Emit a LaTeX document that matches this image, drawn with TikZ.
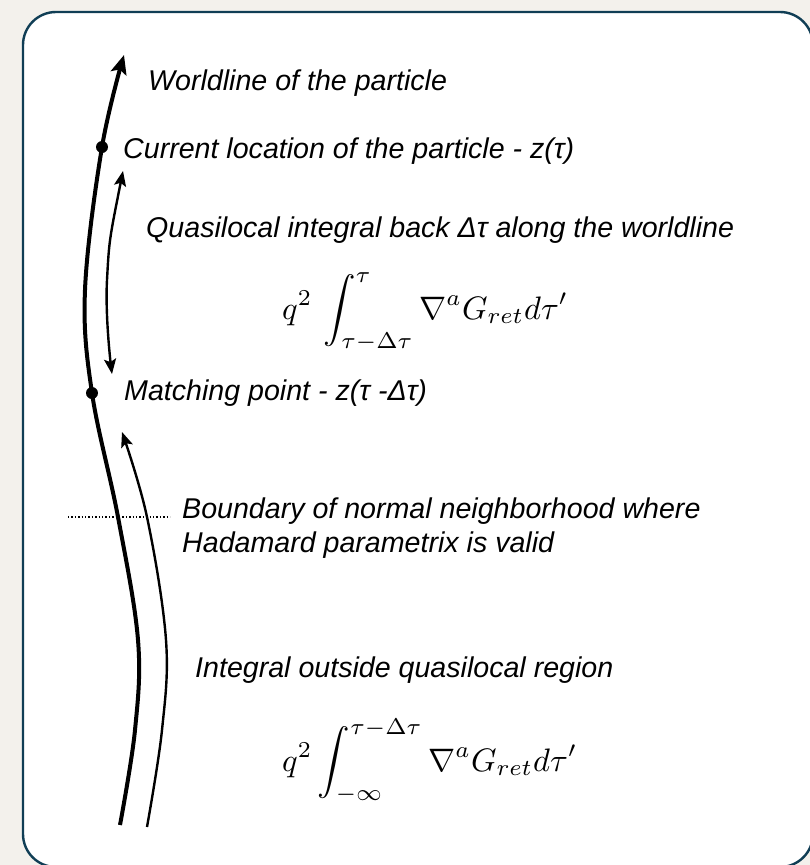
\documentclass[tikz,border=0pt]{standalone}
\usepackage{fontspec}
\setmainfont{Liberation Sans}
\usepackage{amsmath}
\usepackage{graphicx}
\usetikzlibrary{arrows.meta}
\definecolor{bgbeige}{HTML}{F3F1EC}
\definecolor{framecol}{HTML}{103E55}
\tikzset{
  lbl/.style={anchor=base west, inner sep=0pt, font=\fontsize{28.6}{32}\selectfont\itshape},
  eqn/.style={anchor=base west, inner sep=0pt},
  worldl/.style={line width=4pt, black},
  thinarr/.style={line width=2.4pt, black},
  headtip/.tip={Stealth[length=19pt,width=16pt,inset=4pt]},
  smalltip/.tip={Stealth[length=15pt,width=12pt,inset=3pt]},
  dotmark/.style={circle, fill=black, inner sep=0pt, minimum size=12pt}
}
\begin{document}
\begin{tikzpicture}[x=1pt,y=-1pt]
\fill[bgbeige] (0,0) rectangle (810,865);
\useasboundingbox (0,0) rectangle (810,865);
\begin{scope}
\clip (0,0) rectangle (810,865);
\draw[framecol, line width=2.4pt, fill=white, rounded corners=33pt] (23,12) rectangle (813,867);
\end{scope}

% worldline
\coordinate (wtop) at (124,55);
\coordinate (w1) at (102,147);
\coordinate (w2) at (85,290);
\coordinate (w3) at (92,393);
\coordinate (w4) at (118,517);
\coordinate (w5) at (138,640);
\coordinate (w6) at (135,730);
\coordinate (wbot) at (120,825);
\draw[worldl, -{headtip}] plot[smooth, tension=0.6] coordinates {(wbot) (w6) (w5) (w4) (w3) (w2) (w1) (wtop)};
\node[dotmark] (cur) at (w1) {};
\node[dotmark] (match) at (w3) {};

% double arrow (quasilocal)
\coordinate (qa) at (123,171);
\coordinate (qm) at (107,280);
\coordinate (qb) at (112,374);
\draw[thinarr, {smalltip}-{smalltip}] plot[smooth, tension=0.7] coordinates {(qa) (qm) (qb)};

% lower arrow (outside region)
\coordinate (la) at (122,432);
\coordinate (l1) at (147,517);
\coordinate (l2) at (166,640);
\coordinate (l3) at (162,730);
\coordinate (lb) at (147,827);
\draw[thinarr, -{smalltip}] plot[smooth, tension=0.6] coordinates {(lb) (l3) (l2) (l1) (la)};

% boundary dotted line
\coordinate (d1) at (68,517);
\coordinate (d2) at (170,517);
\draw[line width=1.4pt, dotted] (d1) -- (d2);

% labels
\node[lbl] (t1) at (148,90) {Worldline of the particle};
\node[lbl] (t2) at (123,158) {Current location of the particle - z(τ)};
\node[lbl] (t3) at (146,237) {Quasilocal integral back Δτ along the worldline};
\node[eqn] (e1) at (282,319) {\scalebox{3.25}{$\displaystyle q^2\,\int_{\tau-\Delta\tau}^{\tau}\nabla^a G_{ret}d\tau'$}};
\node[lbl] (t4) at (124,400) {Matching point - z(τ -Δτ)};
\node[lbl] (t5) at (182,518) {Boundary of normal neighborhood where};
\node[lbl] (t6) at (182,552) {Hadamard parametrix is valid};
\node[lbl] (t7) at (195,677) {Integral outside quasilocal region};
\node[eqn] (e2) at (282,771) {\scalebox{3.25}{$\displaystyle q^2\int_{-\infty}^{\tau-\Delta\tau}\nabla^a G_{ret}d\tau'$}};
\end{tikzpicture}
\end{document}
